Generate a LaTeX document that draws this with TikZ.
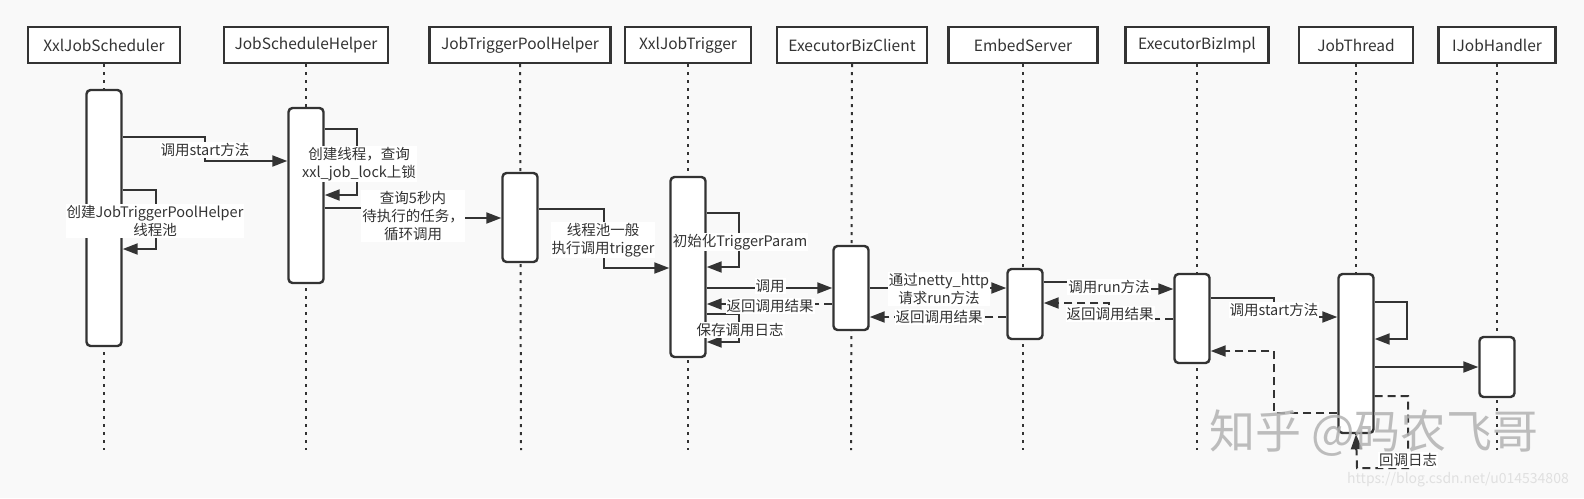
\documentclass[tikz,border=0pt]{standalone}
\usepackage{fontspec}
\setmainfont{Noto Sans CJK SC}
\usetikzlibrary{arrows.meta,calc}
\definecolor{ink}{HTML}{333333}
\definecolor{bg}{HTML}{F9F9F9}
\begin{document}
\begin{tikzpicture}[x=1pt,y=-1pt,
  hdr/.style={draw=ink,line width=2.4pt,fill=white,minimum height=36pt,inner sep=0pt,font=\fontsize{15.5}{17}\selectfont,text=ink},
  life/.style={draw=ink,line width=2pt,dash pattern=on 3pt off 5pt},
  act/.style={draw=ink,line width=2.4pt,fill=white,rounded corners=4pt,minimum width=35pt,inner sep=0pt},
  msg/.style={draw=ink,line width=2pt,-{Triangle[length=15pt,width=11pt]}},
  ret/.style={msg,dash pattern=on 8pt off 5pt},
  lbl/.style={fill=white,inner sep=1pt,align=center,font=\fontsize{14.5}{18}\selectfont,text=ink},
]
\fill[bg] (0,0) rectangle (1584,498);
\useasboundingbox (0,0) rectangle (1584,498);

% headers
\node[hdr,minimum width=152pt] (h1) at (104,45) {XxlJobScheduler};
\node[hdr,minimum width=164pt] (h2) at (306,45) {JobScheduleHelper};
\node[hdr,minimum width=181pt] (h3) at (520,45) {JobTriggerPoolHelper};
\node[hdr,minimum width=126pt] (h4) at (688,45) {XxlJobTrigger};
\node[hdr,minimum width=150pt] (h5) at (852,45) {ExecutorBizClient};
\node[hdr,minimum width=149pt] (h6) at (1023,45) {EmbedServer};
\node[hdr,minimum width=143pt] (h7) at (1197,45) {ExecutorBizImpl};
\node[hdr,minimum width=114pt] (h8) at (1356,45) {JobThread};
\node[hdr,minimum width=117pt] (h9) at (1497,45) {IJobHandler};

% lifelines
\foreach \i/\x in {1/104,2/306,3/521,4/688,5/851,6/1023,7/1197,8/1356,9/1497}{
  \coordinate (e\i) at (\x,450);
  \draw[life] (h\i.south) -- (e\i);
}

% activations
\node[act,minimum height=256pt] (a1) at (104,218) {};
\node[act,minimum height=175pt] (a2) at (306,195.5) {};
\node[act,minimum height=89pt]  (a3) at (520,217.5) {};
\node[act,minimum height=180pt] (a4) at (688,267) {};
\node[act,minimum height=84pt]  (a5) at (851,288) {};
\node[act,minimum height=70pt]  (a6) at (1025,304) {};
\node[act,minimum height=89pt]  (a7) at (1192,318.5) {};
\node[act,minimum height=159pt] (a8) at (1356,353.5) {};
\node[act,minimum height=60pt]  (a9) at (1497,367) {};

% messages
\draw[msg] (a1.east |- 0,137) -- (205,137) -- (205,161) -- (a2.west |- 0,161);
\draw[msg] (a1.east |- 0,190) -- (156,190) -- (156,249) -- (a1.east |- 0,249);
\draw[msg] (a2.east |- 0,129) -- (357,129) -- (357,195) -- (a2.east |- 0,195);
\draw[msg] (a2.east |- 0,208) -- (413,208) -- (413,218) -- (a3.west |- 0,218);
\draw[msg] (a3.east |- 0,209) -- (604,209) -- (604,268) -- (a4.west |- 0,268);
\draw[msg] (a4.east |- 0,213) -- (739,213) -- (739,267) -- (a4.east |- 0,267);
\draw[msg] (a4.east |- 0,288) -- (a5.west |- 0,288);
\draw[ret] (a5.west |- 0,304) -- (a4.east |- 0,304);
\draw[msg] (a4.east |- 0,314) -- (739,314) -- (739,342) -- (a4.east |- 0,342);
\draw[msg] (a5.east |- 0,288) -- (a6.west |- 0,288);
\draw[ret] (a6.west |- 0,317) -- (a5.east |- 0,317);
\draw[msg] (a6.east |- 0,282) -- (1109,282) -- (1109,289) -- (a7.west |- 0,289);
\draw[ret] (a7.west |- 0,319) -- (1109,319) -- (1109,303) -- (a6.east |- 0,303);
\draw[msg] (a7.east |- 0,298) -- (1274,298) -- (1274,317) -- (a8.west |- 0,317);
\draw[msg] (a8.east |- 0,302) -- (1407,302) -- (1407,339) -- (a8.east |- 0,339);
\draw[msg] (a8.east |- 0,367) -- (a9.west |- 0,367);
\draw[ret] (a8.west |- 0,413) -- (1274,413) -- (1274,351) -- (a7.east |- 0,351);
\draw[ret] (a8.east |- 0,396) -- (1408,396) -- (1408,468) -- (1357,468) -- (a8.south);

% labels
\node[lbl] (l1) at (205,150) {调用start方法};
\node[lbl] (l2) at (155,221) {创建JobTriggerPoolHelper\\线程池};
\node[lbl] (l3) at (359,164) {创建线程，查询\\xxl\_job\_lock上锁};
\node[lbl] (l4) at (413,216) {查询5秒内\\待执行的任务，\\循环调用};
\node[lbl] (l5) at (603,240) {线程池一般\\执行调用trigger};
\node[lbl] (l6) at (740,242) {初始化TriggerParam};
\node[lbl] (l7) at (770,286) {调用};
\node[lbl] (l8) at (770,306) {返回调用结果};
\node[lbl] (l9) at (740,330) {保存调用日志};
\node[lbl] (l10) at (939,289) {通过netty\_http\\请求run方法};
\node[lbl] (l11) at (939,317) {返回调用结果};
\node[lbl] (l12) at (1109,287) {调用run方法};
\node[lbl] (l13) at (1110,314) {返回调用结果};
\node[lbl] (l14) at (1274,310) {调用start方法};
\node[lbl] (l15) at (1408,460) {回调日志};

% watermarks
\node[font=\fontsize{46}{46}\selectfont,text=gray!60,opacity=0.85] (wm) at (1374,433) {知乎 @码农飞哥};
\node[font=\fontsize{14}{14}\selectfont,text=black!12] (url) at (1458,480) {https://blog.csdn.net/u014534808};
\end{tikzpicture}
\end{document}
